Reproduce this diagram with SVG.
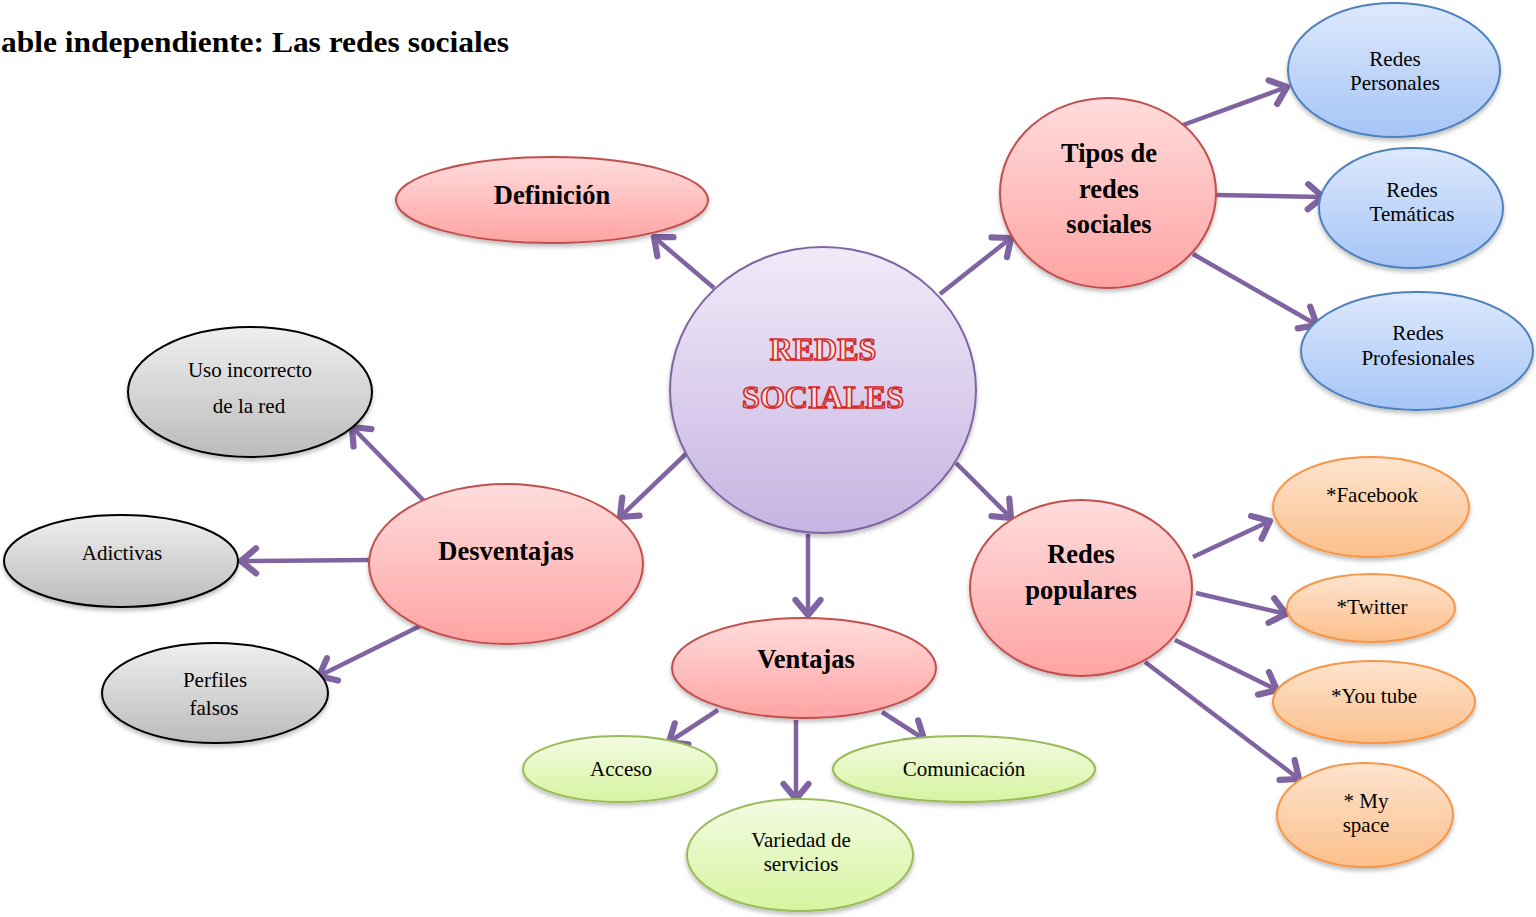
<svg xmlns="http://www.w3.org/2000/svg" width="1536" height="917" viewBox="0 0 1536 917">
<defs>
<linearGradient id="gPink" x1="0" y1="0" x2="0" y2="1"><stop offset="0" stop-color="#FFDCDC"/><stop offset="1" stop-color="#FFA3A3"/></linearGradient>
<linearGradient id="gCenter" x1="0" y1="0" x2="0" y2="1"><stop offset="0" stop-color="#F0EAF8"/><stop offset="1" stop-color="#C6B4E2"/></linearGradient>
<linearGradient id="gBlue" x1="0" y1="0" x2="0" y2="1"><stop offset="0" stop-color="#DDE9FC"/><stop offset="1" stop-color="#A5C5F7"/></linearGradient>
<linearGradient id="gOrange" x1="0" y1="0" x2="0" y2="1"><stop offset="0" stop-color="#FEE4CF"/><stop offset="1" stop-color="#FBBF8A"/></linearGradient>
<linearGradient id="gGreen" x1="0" y1="0" x2="0" y2="1"><stop offset="0" stop-color="#F3FBE3"/><stop offset="1" stop-color="#D6F49F"/></linearGradient>
<linearGradient id="gGray" x1="0" y1="0" x2="0" y2="1"><stop offset="0" stop-color="#EFEFEF"/><stop offset="1" stop-color="#BBBBBB"/></linearGradient>
<filter id="sh" x="-10%" y="-10%" width="120%" height="130%"><feDropShadow dx="0" dy="3" stdDeviation="2" flood-color="#000" flood-opacity="0.25"/></filter>
<marker id="arr" markerUnits="userSpaceOnUse" markerWidth="30" markerHeight="30" viewBox="-16 -12 20 24" refX="0" refY="0" orient="auto" overflow="visible">
<path d="M -12 -10 L 0 0 L -12 10" fill="none" stroke="#8064A2" stroke-width="5" stroke-linecap="round" stroke-linejoin="round"/>
</marker>
<style>
.pink{fill:url(#gPink);stroke:#C0504D;stroke-width:2;filter:url(#sh)}
.center{fill:url(#gCenter);stroke:#8064A2;stroke-width:2;filter:url(#sh)}
.blue{fill:url(#gBlue);stroke:#4F81BD;stroke-width:2;filter:url(#sh)}
.orange{fill:url(#gOrange);stroke:#F79646;stroke-width:2;filter:url(#sh)}
.green{fill:url(#gGreen);stroke:#9BBB59;stroke-width:2;filter:url(#sh)}
.gray{fill:url(#gGray);stroke:#000;stroke-width:2;filter:url(#sh)}
.t{font-family:"Liberation Serif","Times New Roman",serif;font-size:21px;fill:#000;text-anchor:middle}
.tb{font-family:"Liberation Serif","Times New Roman",serif;font-size:26.5px;font-weight:bold;fill:#000;text-anchor:middle}
.big{font-family:"Liberation Serif","Times New Roman",serif;font-size:32px;font-weight:bold;fill:#FBE3E3;stroke:#D42A2A;stroke-width:1.6;text-anchor:middle}
.c{stroke:#8064A2;stroke-width:4.5;fill:none;marker-end:url(#arr)}
</style>
</defs>
<rect width="1536" height="917" fill="#FFFFFF"/>
<text x="1" y="52" textLength="508" lengthAdjust="spacingAndGlyphs" font-family="Liberation Serif,Times New Roman,serif" font-size="30" font-weight="bold">able independiente: Las redes sociales</text>

<g id="connectors">
<line class="c" x1="714" y1="288" x2="654" y2="237"/>
<line class="c" x1="940" y1="294" x2="1011" y2="238"/>
<line class="c" x1="1183" y1="125" x2="1287" y2="87"/>
<line class="c" x1="1216" y1="195" x2="1323" y2="197"/>
<line class="c" x1="1193" y1="254" x2="1317" y2="325"/>
<line class="c" x1="956" y1="463" x2="1011" y2="518"/>
<line class="c" x1="1193" y1="557" x2="1270" y2="521"/>
<line class="c" x1="1196" y1="593" x2="1286" y2="614"/>
<line class="c" x1="1175" y1="640" x2="1277" y2="690"/>
<line class="c" x1="1145" y1="662" x2="1299" y2="779"/>
<line class="c" x1="808" y1="534" x2="808" y2="615"/>
<line class="c" x1="718" y1="710" x2="669" y2="742"/>
<line class="c" x1="796" y1="720" x2="796" y2="799"/>
<line class="c" x1="882" y1="712" x2="924" y2="739"/>
<line class="c" x1="688" y1="452" x2="620" y2="517"/>
<line class="c" x1="428" y1="505" x2="352" y2="427"/>
<line class="c" x1="370" y1="560" x2="241" y2="561"/>
<line class="c" x1="420" y1="626" x2="319" y2="676"/>
</g>

<g id="n-center"><ellipse class="center" cx="823" cy="390" rx="153" ry="143"/>
<text class="big" x="823" y="360">REDES</text><text class="big" x="823" y="408">SOCIALES</text></g>

<g id="n-definicion"><ellipse class="pink" cx="552" cy="200" rx="156" ry="43"/><text class="tb" x="552" y="204">Definición</text></g>

<g id="n-tipos"><ellipse class="pink" cx="1108" cy="193" rx="108" ry="95"/>
<text class="tb" x="1109" y="162">Tipos de</text><text class="tb" x="1109" y="198">redes</text><text class="tb" x="1109" y="233">sociales</text></g>

<g id="n-personales"><ellipse class="blue" cx="1394" cy="70" rx="106" ry="67"/><text class="t" x="1395" y="66">Redes</text><text class="t" x="1395" y="90">Personales</text></g>
<g id="n-tematicas"><ellipse class="blue" cx="1411" cy="208" rx="92" ry="60"/><text class="t" x="1412" y="197">Redes</text><text class="t" x="1412" y="221">Temáticas</text></g>
<g id="n-profesionales"><ellipse class="blue" cx="1417" cy="351" rx="116" ry="59"/><text class="t" x="1418" y="340">Redes</text><text class="t" x="1418" y="365">Profesionales</text></g>

<g id="n-populares"><ellipse class="pink" cx="1081" cy="588" rx="111" ry="88"/>
<text class="tb" x="1081" y="563">Redes</text><text class="tb" x="1081" y="599">populares</text></g>

<g id="n-facebook"><ellipse class="orange" cx="1371" cy="507" rx="98" ry="50"/><text class="t" x="1372" y="502">*Facebook</text></g>
<g id="n-twitter"><ellipse class="orange" cx="1371" cy="608" rx="84" ry="34"/><text class="t" x="1372" y="614">*Twitter</text></g>
<g id="n-youtube"><ellipse class="orange" cx="1374" cy="702" rx="101" ry="41"/><text class="t" x="1374" y="703">*You tube</text></g>
<g id="n-myspace"><ellipse class="orange" cx="1365" cy="815" rx="88" ry="52"/><text class="t" x="1366" y="808">* My</text><text class="t" x="1366" y="832">space</text></g>

<g id="n-ventajas"><ellipse class="pink" cx="804" cy="668" rx="132" ry="50"/><text class="tb" x="806" y="668">Ventajas</text></g>
<g id="n-acceso"><ellipse class="green" cx="620" cy="769" rx="97" ry="33"/><text class="t" x="621" y="776">Acceso</text></g>
<g id="n-comunicacion"><ellipse class="green" cx="964" cy="769" rx="131" ry="33"/><text class="t" x="964" y="776">Comunicación</text></g>
<g id="n-variedad"><ellipse class="green" cx="800" cy="855" rx="113" ry="56"/><text class="t" x="801" y="847">Variedad de</text><text class="t" x="801" y="871">servicios</text></g>

<g id="n-desventajas"><ellipse class="pink" cx="506" cy="564" rx="137" ry="80"/><text class="tb" x="506" y="560">Desventajas</text></g>
<g id="n-uso"><ellipse class="gray" cx="250" cy="392" rx="122" ry="65"/><text class="t" x="250" y="377">Uso incorrecto</text><text class="t" x="249" y="413">de la red</text></g>
<g id="n-adictivas"><ellipse class="gray" cx="121" cy="561" rx="117" ry="46"/><text class="t" x="122" y="560">Adictivas</text></g>
<g id="n-perfiles"><ellipse class="gray" cx="215" cy="693" rx="113" ry="50"/><text class="t" x="215" y="687">Perfiles</text><text class="t" x="214" y="715">falsos</text></g>
</svg>
